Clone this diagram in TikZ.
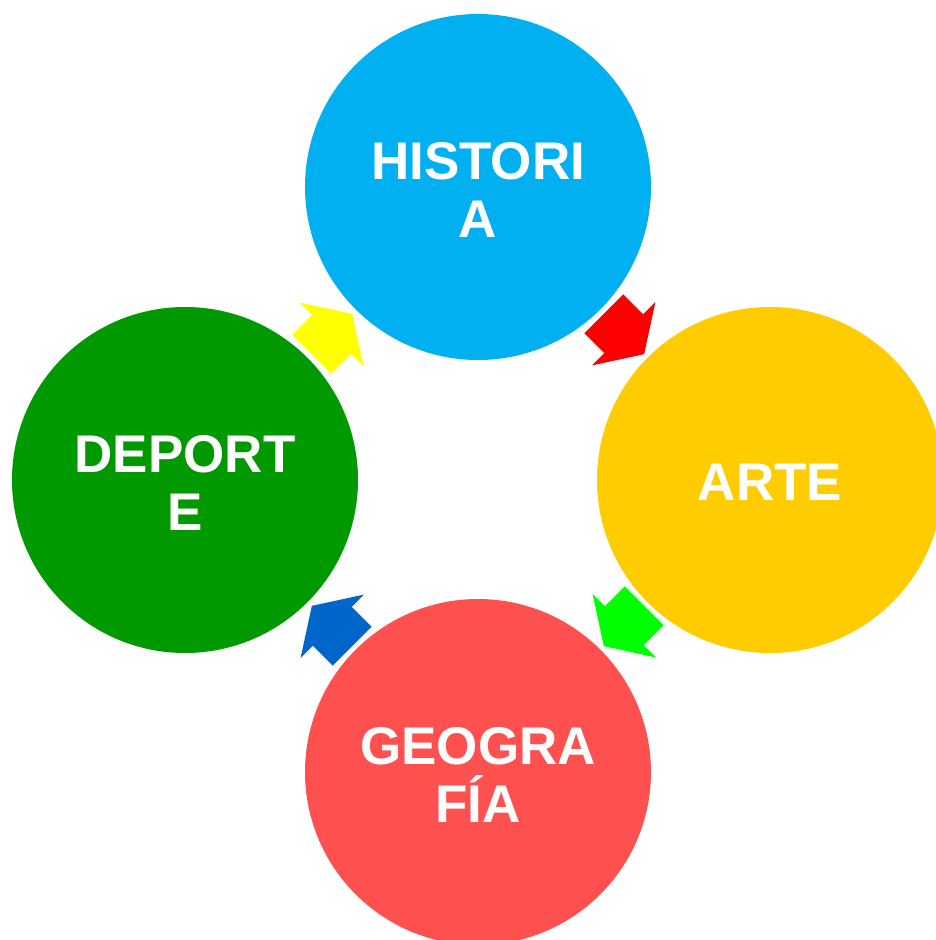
\documentclass[tikz,border=0pt]{standalone}
\usepackage{fontspec}
\setmainfont{Liberation Sans}
\definecolor{histc}{HTML}{00B0F0}
\definecolor{artec}{HTML}{FFCC00}
\definecolor{geoc}{HTML}{FF5050}
\definecolor{depc}{HTML}{009900}
\definecolor{arrred}{HTML}{FF0000}
\definecolor{arrgreen}{HTML}{00FF00}
\definecolor{arrblue}{HTML}{0066CC}
\definecolor{arryellow}{HTML}{FFFF00}
\tikzset{
  topic/.style={circle, minimum size=346pt, inner sep=0pt, fill=#1},
  topictext/.style={inner sep=0pt, text=white, align=center, yshift=-2.5pt,
    font=\bfseries\fontsize{53}{58}\selectfont},
  blockarrow/.pic={\fill (-28.5,27.5) -- (-0.5,27.5) -- (-0.5,45) -- (28.5,0)
     -- (-0.5,-45) -- (-0.5,-27.5) -- (-28.5,-27.5) -- cycle;}
}
\begin{document}
\begin{tikzpicture}[x=1pt,y=1pt]
\useasboundingbox (0,0) rectangle (936,-940);
\clip (0,0) rectangle (936,-940);
\fill[white] (0,0) rectangle (936,-940);
\node[topic=histc] (hist) at (478,-187) {};
\node[topic=artec] (arte) at (770,-480) {};
\node[topic=geoc]  (geo)  at (478,-772) {};
\node[topic=depc]  (dep)  at (185,-480) {};
\node[topictext] (histt) at (hist.center) {HISTORI\\A};
\node[topictext] (artet) at (arte.center) {ARTE};
\node[topictext] (geot)  at (geo.center)  {GEOGRA\\FÍA};
\node[topictext] (dept)  at (dep.center)  {DEPORT\\E};
\pic[color=arrred, rotate=-45]     (a1) at (624,-334) {blockarrow};
\pic[color=arrgreen, rotate=-135]  (a2) at (624,-626) {blockarrow};
\pic[color=arrblue, rotate=135]    (a3) at (332,-626) {blockarrow};
\pic[color=arryellow, rotate=45]   (a4) at (332,-334) {blockarrow};
\end{tikzpicture}
\end{document}
